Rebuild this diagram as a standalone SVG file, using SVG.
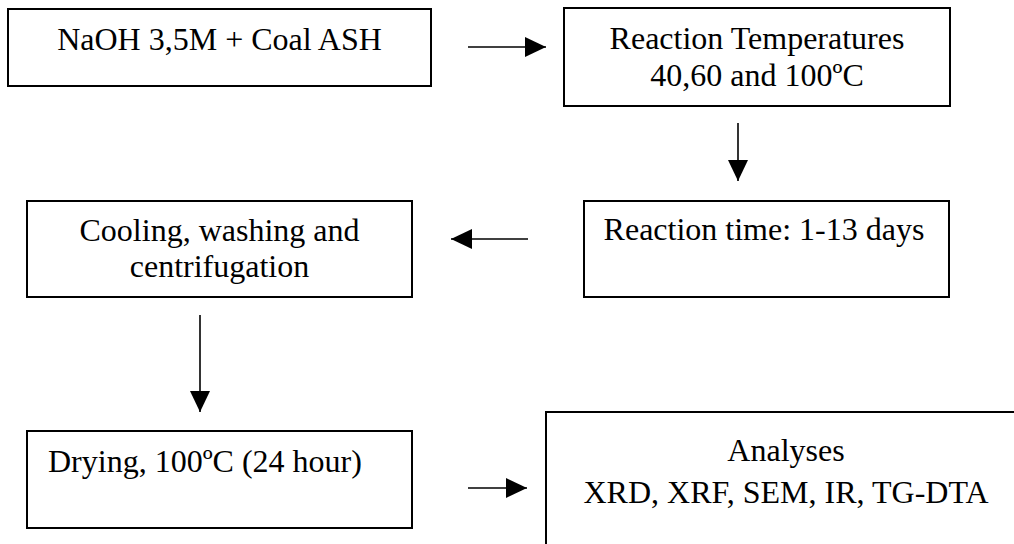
<svg xmlns="http://www.w3.org/2000/svg" width="1014" height="544" viewBox="0 0 1014 544">
<style>
.box{fill:#fff;stroke:#000;stroke-width:2}
.t{font-family:"Liberation Serif","Times New Roman",serif;font-size:32px;fill:#000}
.c{text-anchor:middle}
.conn{stroke:#000;stroke-width:1.6;fill:none}
</style>
<defs>
<marker id="ah" markerUnits="userSpaceOnUse" markerWidth="21" markerHeight="20" refX="21" refY="10" orient="auto">
<path d="M0,0 L21,10 L0,20 z" fill="#000"/>
</marker>
</defs>
<rect width="1014" height="544" fill="#fff"/>
<g id="n1">
<rect class="box" x="8" y="9" width="423" height="77"/>
<text class="t c" x="219.5" y="50">NaOH 3,5M + Coal ASH</text>
</g>
<g id="n2">
<rect class="box" x="564" y="8" width="386" height="98"/>
<text class="t c" x="757" y="49">Reaction Temperatures</text>
<text class="t c" x="757" y="86">40,60 and 100ºC</text>
</g>
<g id="n3">
<rect class="box" x="584" y="201" width="365" height="96"/>
<text class="t c" x="764" y="240">Reaction time: 1-13 days</text>
</g>
<g id="n4">
<rect class="box" x="27" y="201" width="385" height="96"/>
<text class="t c" x="219.5" y="241">Cooling, washing and</text>
<text class="t c" x="219.5" y="277">centrifugation</text>
</g>
<g id="n5">
<rect class="box" x="27" y="431" width="385" height="97"/>
<text class="t" x="48" y="472">Drying, 100ºC (24 hour)</text>
</g>
<g id="n6">
<rect class="box" x="546" y="412" width="500" height="160"/>
<text class="t c" x="786" y="461">Analyses</text>
<text class="t c" x="786" y="503">XRD, XRF, SEM, IR, TG-DTA</text>
</g>
<g id="connectors">
<line class="conn" x1="468" y1="47" x2="546" y2="47" marker-end="url(#ah)"/>
<line class="conn" x1="738" y1="123" x2="738" y2="181" marker-end="url(#ah)"/>
<line class="conn" x1="528" y1="239" x2="451" y2="239" marker-end="url(#ah)"/>
<line class="conn" x1="200" y1="315" x2="200" y2="412" marker-end="url(#ah)"/>
<line class="conn" x1="468" y1="488" x2="527" y2="488" marker-end="url(#ah)"/>
</g>
</svg>
